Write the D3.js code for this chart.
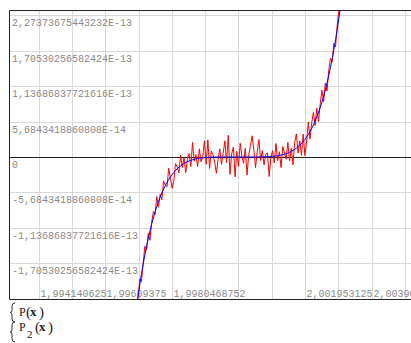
<!DOCTYPE html>
<html>
<head>
<meta charset="utf-8">
<script src="https://cdn.jsdelivr.net/npm/d3@7"></script>
<style>
  html, body { margin: 0; padding: 0; background: #fff; }
  svg { display: block; }
</style>
</head>
<body>
<svg id="chart"></svg>
<script>
// range variable  x := 1.9969, 1.99695 .. 2.0031
const xStart = 1.9969;
const xStep = 0.00005;

// P(x), expanded polynomial (units of 1e-14)
const pValues = [
  -28.23, -27.19, -23.20, -22.64, -19.61, -20.00, -17.01, -14.33, -14.95, -12.27,
  -13.38, -10.48, -8.77, -9.23, -6.36, -8.07, -5.94, -6.87, -3.85, -4.49,
  -4.78, -1.82, -3.40, -5.02, -3.88, -1.07, -1.59, -2.54, 0.28, -1.72,
  -0.15, -2.49, -0.36, 0.56, -1.54, 2.35, -0.67, 0.39, -1.55, 1.30,
  -0.76, 0.07, 2.60, -1.18, 2.74, -1.84, 0.97, 0.38, -0.82, -2.61,
  -0.40, 1.30, -1.20, 0.60, 2.60, -0.90, 3.50, -2.80, 0.50, 1.60,
  -3.20, 0.90, -1.50, 2.20, 0.10, -1.00, 1.40, -2.90, 0.30, 1.80,
  3.40, 1.20, -1.70, 0.80, 2.80, -0.59, 1.02, -1.28, 0.43, 0.64,
  -3.14, -0.12, 1.00, -0.97, 2.16, -0.60, 0.85, -1.69, 1.67, 0.65,
  -0.36, 2.34, -0.64, 1.39, -1.25, 2.32, 3.72, 0.64, 2.59, 0.27,
  3.68, 0.22, 2.40, 5.62, 2.88, 5.49, 7.15, 5.07, 7.84, 5.67,
  8.56, 10.73, 8.87, 11.88, 10.58, 13.87, 15.85, 15.23, 18.21, 17.70,
  21.21, 23.64, 23.70, 27.29, 28.23
];

// P2(x), the factored form (units of 1e-14)
const p2Values = [
  -28.63, -26.39, -24.30, -22.34, -20.51, -18.80, -17.21, -15.73, -14.35, -13.07,
  -11.88, -10.78, -9.77, -8.83, -7.96, -7.17, -6.44, -5.77, -5.15, -4.59,
  -4.08, -3.62, -3.20, -2.82, -2.48, -2.17, -1.89, -1.64, -1.42, -1.22,
  -1.05, -0.89, -0.76, -0.64, -0.54, -0.45, -0.37, -0.31, -0.25, -0.20,
  -0.16, -0.13, -0.10, -0.08, -0.06, -0.04, -0.03, -0.02, -0.02, -0.01,
  -0.01, -0.01, 0, 0, 0, 0, 0, 0, 0, 0,
  0, 0, 0, 0, 0, 0, 0, 0, 0, 0,
  0, 0, 0, 0.01, 0.01, 0.01, 0.02, 0.02, 0.03, 0.04,
  0.06, 0.08, 0.10, 0.13, 0.16, 0.20, 0.25, 0.31, 0.37, 0.45,
  0.54, 0.64, 0.76, 0.89, 1.05, 1.22, 1.42, 1.64, 1.89, 2.17,
  2.48, 2.82, 3.20, 3.62, 4.08, 4.59, 5.15, 5.77, 6.44, 7.17,
  7.96, 8.83, 9.77, 10.78, 11.88, 13.07, 14.35, 15.73, 17.21, 18.80,
  20.51, 22.34, 24.30, 26.39, 28.63
];
const valueUnit = 1e-14;

const yTickValues = [
  2.27373675443232e-13, 1.70530256582424e-13, 1.13686837721616e-13, 5.6843418860808e-14,
  0, -5.6843418860808e-14, -1.13686837721616e-13, -1.70530256582424e-13
];
const yTickLabels = [
  "2,27373675443232E-13", "1,70530256582424E-13", "1,13686837721616E-13", "5,6843418860808E-14",
  "0", "-5,6843418860808E-14", "-1,13686837721616E-13", "-1,70530256582424E-13"
];
const xTickValues = [1.994140625, 1.99609375, 1.998046875, 2, 2.001953125, 2.00390625];
const xTickLabels = ["1,994140625", "1,99609375", "1,998046875", "2", "2,001953125", "2,00390625"];
const xGridStep = 0.0009765625;

const width = 411;
const height = 343;
const plot = { left: 9, top: 10, bottom: 299, right: 468 };

const $svg = d3.select("#chart").attr("width", width).attr("height", height);
$svg.append("rect").attr("width", width).attr("height", height).attr("fill", "#fff");

const x = d3.scaleLinear().domain([1.99326, 2.00674]).range([plot.left, plot.right]);
const y = d3.scaleLinear().domain([-2.28e-13, 2.36e-13]).range([plot.bottom, plot.top]);
const crisp = (v) => Math.round(v) + 0.5;

// grid
const xGrid = d3.range(0, 13).map((k) => xTickValues[0] + k * xGridStep);
const $grid = $svg.append("g").attr("stroke", "#d9d9d9").attr("stroke-width", 1);
$grid.selectAll("line.v")
  .data(xGrid)
  .join("line")
  .attr("class", "v")
  .attr("x1", (d) => crisp(x(d)))
  .attr("x2", (d) => crisp(x(d)))
  .attr("y1", plot.top)
  .attr("y2", plot.bottom);
$grid.selectAll("line.h")
  .data(yTickValues.filter((d) => d !== 0))
  .join("line")
  .attr("class", "h")
  .attr("x1", plot.left)
  .attr("x2", width)
  .attr("y1", (d) => crisp(y(d)))
  .attr("y2", (d) => crisp(y(d)));

// zero axis and frame
$svg.append("line")
  .attr("x1", plot.left).attr("x2", width)
  .attr("y1", crisp(y(0))).attr("y2", crisp(y(0)))
  .attr("stroke", "#222");
$svg.append("path")
  .attr("d", `M${width},${plot.top + 0.5}H${plot.left + 0.5}V${plot.bottom + 0.5}H${width}`)
  .attr("fill", "none")
  .attr("stroke", "#222");

// tick labels
const labelFont = "'Liberation Mono', 'DejaVu Sans Mono', monospace";
$svg.append("g")
  .selectAll("text")
  .data(yTickValues)
  .join("text")
  .attr("x", 12)
  .attr("y", (d) => crisp(y(d)) + 10)
  .attr("fill", "#8a8a8a")
  .style("font-family", labelFont)
  .style("font-size", "10px")
  .text((d, i) => yTickLabels[i]);
$svg.append("g")
  .selectAll("text")
  .data(xTickValues)
  .join("text")
  .attr("x", (d) => crisp(x(d)) + 1)
  .attr("y", 297)
  .attr("fill", "#8a8a8a")
  .style("font-family", labelFont)
  .style("font-size", "10px")
  .text((d, i) => xTickLabels[i]);

// traces
$svg.append("clipPath").attr("id", "plot-clip")
  .append("rect")
  .attr("x", plot.left + 1).attr("y", plot.top + 1)
  .attr("width", width - plot.left).attr("height", plot.bottom - plot.top - 1);
const $traces = $svg.append("g").attr("clip-path", "url(#plot-clip)");
const line = d3.line()
  .x((d, i) => x(xStart + i * xStep))
  .y((d) => y(d * valueUnit));
$traces.append("path")
  .attr("d", line(pValues))
  .attr("fill", "none")
  .attr("stroke", "#ff0000")
  .attr("stroke-width", 1);
$traces.append("path")
  .attr("d", line(p2Values))
  .attr("fill", "none")
  .attr("stroke", "#0000ff")
  .attr("stroke-width", 1);

// legend
const $legend = $svg.append("g");
[[303, 322], [322, 342]].forEach(([y0, y1]) => {
  const ym = (y0 + y1) / 2;
  $legend.append("path")
    .attr("d", `M15,${y0}Q12,${y0} 12,${y0 + 3}V${ym - 2}Q12,${ym} 10,${ym}Q12,${ym} 12,${ym + 2}V${y1 - 3}Q12,${y1} 15,${y1}`)
    .attr("fill", "none")
    .attr("stroke", "#333");
});
const serif = "'Liberation Serif', 'DejaVu Serif', serif";
const legendItems = [
  { parts: [["P", 19, 316, 12, 400], ["(", 26, 317, 15, 300], ["x", 30, 316, 13, 700], [")", 39, 317, 15, 300]] },
  { parts: [["P", 19, 331, 12, 400], ["2", 27, 338, 11, 400], ["(", 35, 332, 15, 300], ["x", 39, 331, 13, 700], [")", 48, 332, 15, 300]] }
];
legendItems.forEach((item) => {
  $legend.selectAll(null)
    .data(item.parts)
    .join("text")
    .attr("x", (d) => d[1])
    .attr("y", (d) => d[2])
    .attr("fill", "#222")
    .style("font-family", serif)
    .style("font-size", (d) => `${d[3]}px`)
    .style("font-weight", (d) => d[4])
    .text((d) => d[0]);
});
</script>
</body>
</html>
